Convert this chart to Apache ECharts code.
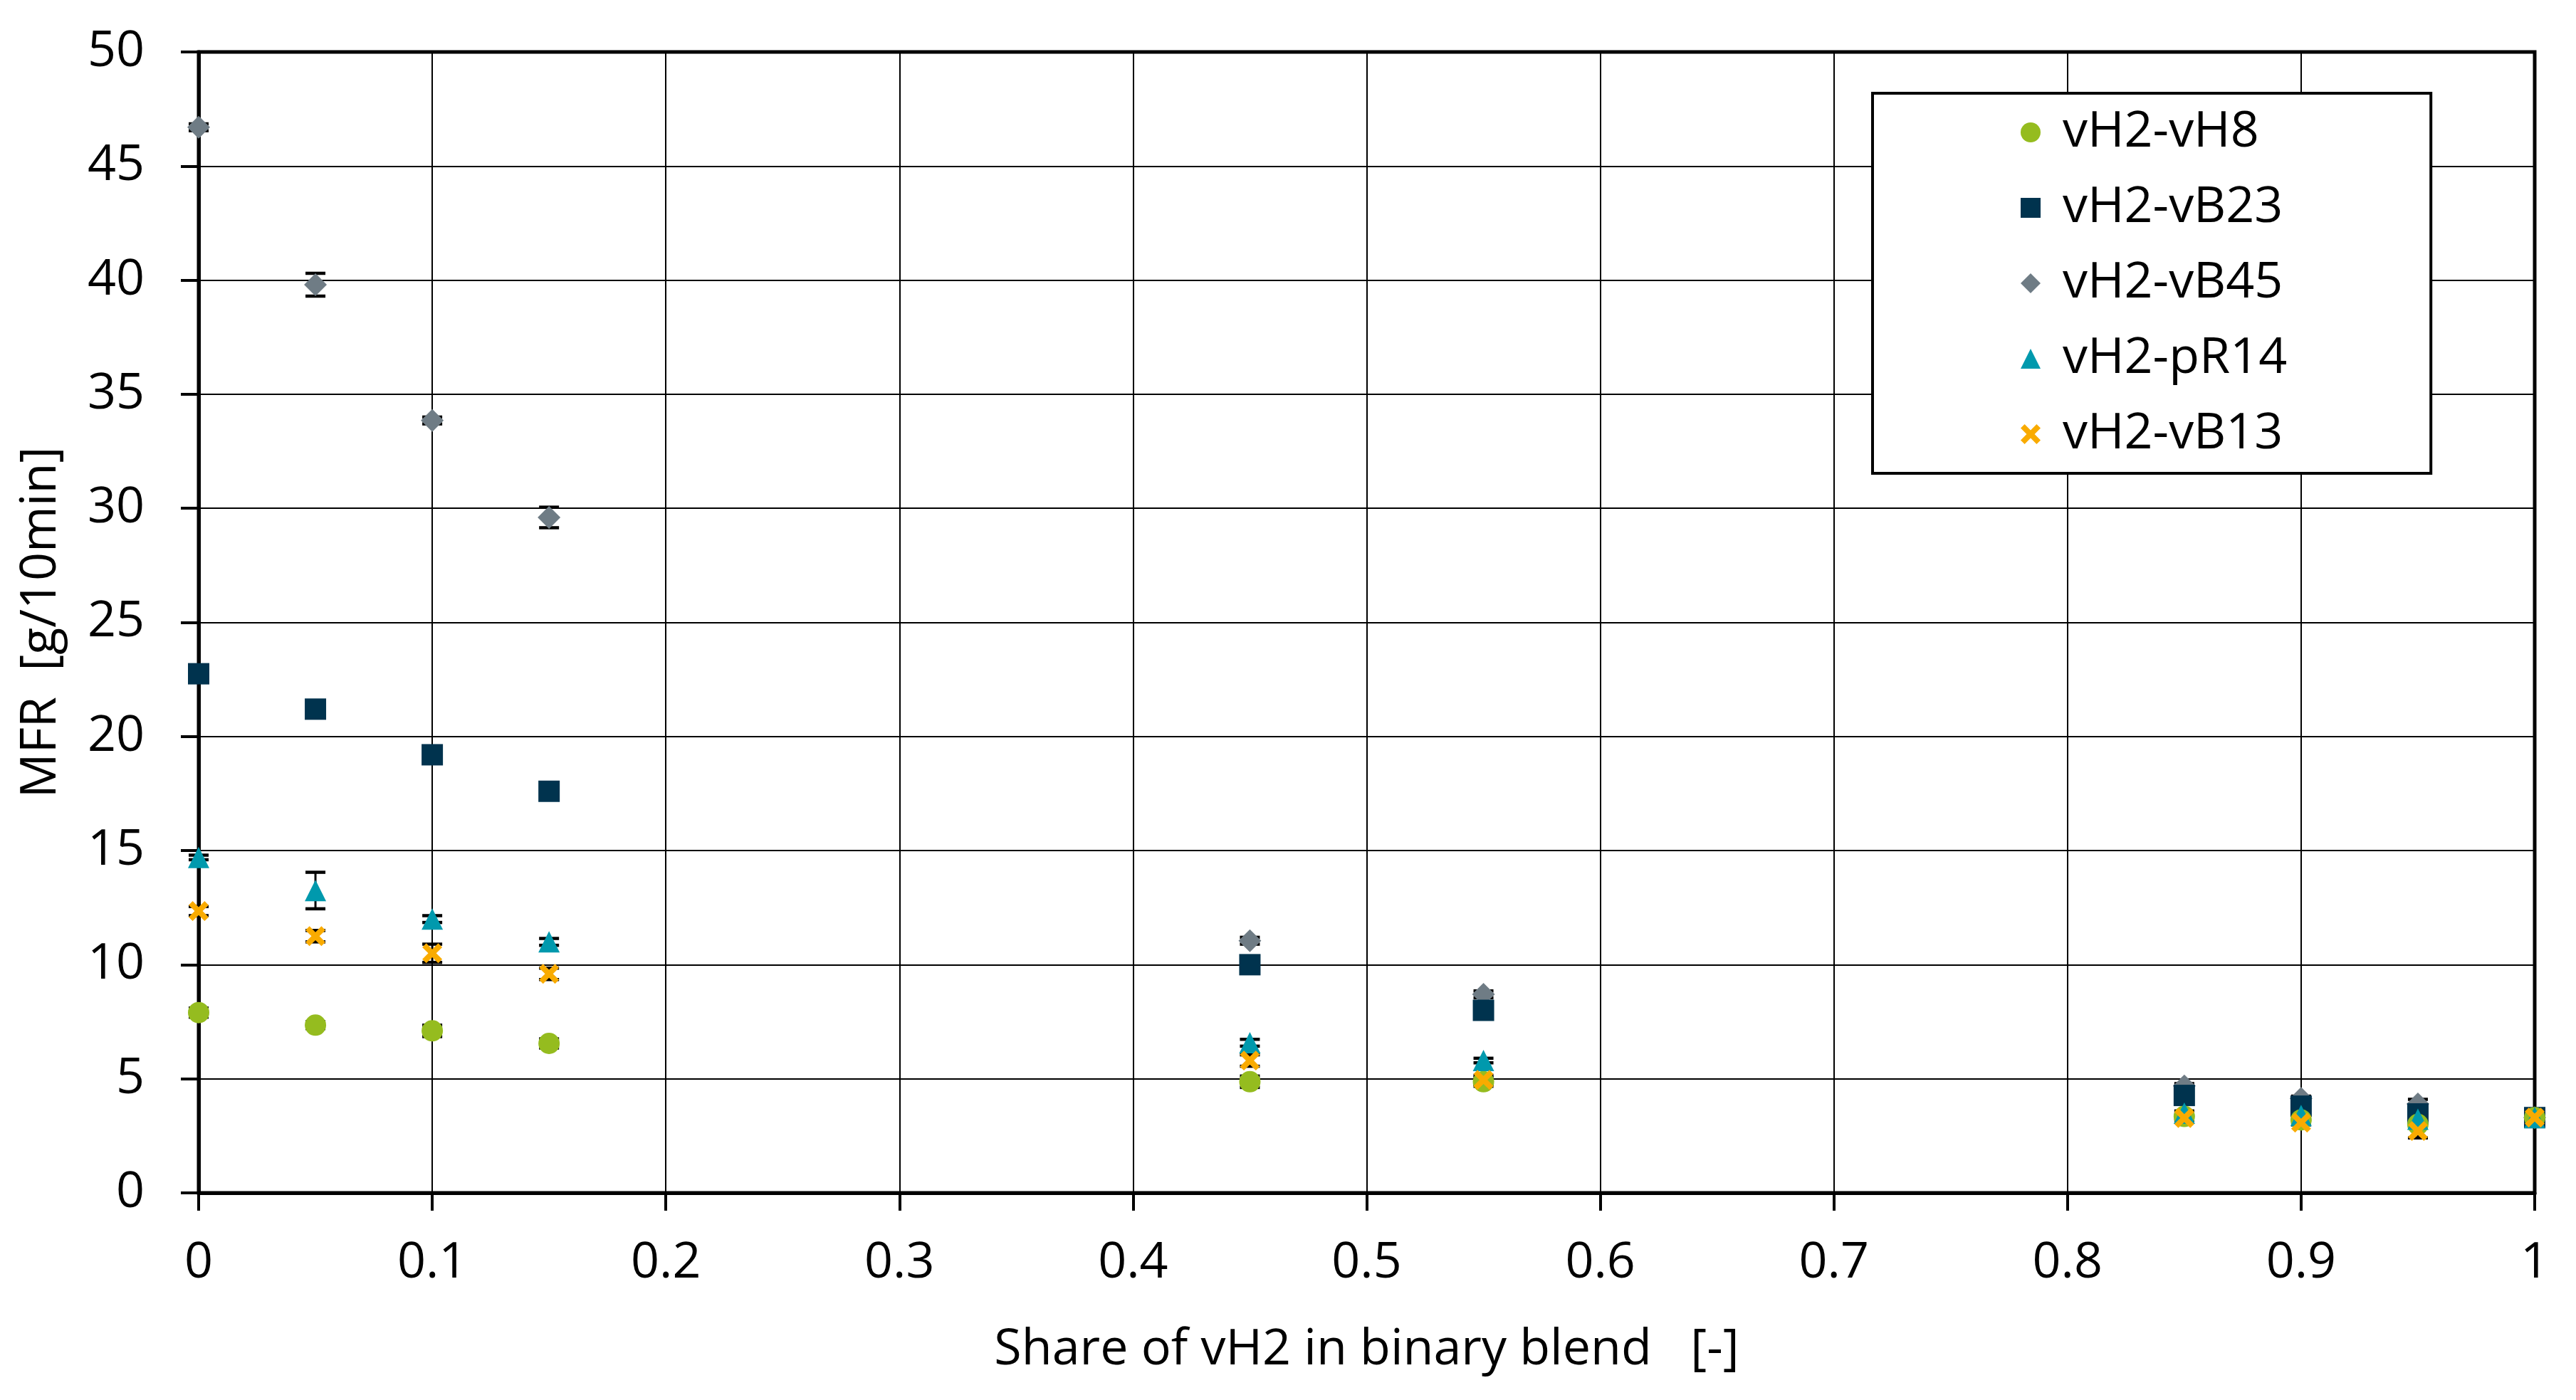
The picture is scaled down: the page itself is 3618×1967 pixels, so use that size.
<!DOCTYPE html>
<html>
<head>
<meta charset="utf-8">
<script src="https://cdn.jsdelivr.net/npm/echarts@6/dist/echarts.min.js"></script>
<style>
  html, body { margin: 0; padding: 0; background: #fff; }
  #main { width: 3618px; height: 1967px; }
</style>
</head>
<body>
<div id="main"></div>
<script>
var myChart = echarts.init(document.getElementById('main'));

// share of vH2 in the blend
const shares = [0, 0.05, 0.1, 0.15, 0.45, 0.55, 0.85, 0.9, 0.95, 1];

// MFR values [g/10min]
const mfrVH8  = [7.9, 7.35, 7.1, 6.55, 4.87, 4.87, 3.35, 3.2, 3.0, 3.3];
const mfrVB23 = [22.75, 21.2, 19.2, 17.6, 10.0, 8.0, 4.27, 3.8, 3.46, 3.3];
const mfrVB45 = [46.7, 39.8, 33.85, 29.6, 11.05, 8.7, 4.69, 4.14, 3.9, 3.3];
const mfrPR14 = [14.7, 13.25, 12.0, 11.0, 6.58, 5.8, 3.49, 3.39, 3.23, 3.3];
const mfrVB13 = [12.35, 11.25, 10.5, 9.6, 5.8, 4.95, 3.28, 3.08, 2.71, 3.3];

// error bars (+/-)
const errVH8  = [0.2, 0.15, 0.25, 0.2, 0.25, 0.2, 0.1, 0.1, 0.1, 0.1];
const errVB23 = [0.2, 0.2, 0.2, 0.2, 0.2, 0.2, 0.1, 0.1, 0.1, 0.1];
const errVB45 = [0.15, 0.5, 0.15, 0.45, 0.15, 0.15, 0.1, 0.1, 0.2, 0.1];
const errPR14 = [0.1, 0.8, 0.15, 0.15, 0.15, 0.1, 0.1, 0.1, 0.1, 0.1];
const errVB13 = [0.2, 0.25, 0.4, 0.25, 0.25, 0.2, 0.1, 0.1, 0.3, 0.1];

const names = ['vH2-vH8', 'vH2-vB23', 'vH2-vB45', 'vH2-pR14', 'vH2-vB13'];

const FONT = 'Open Sans';
const crossPath = 'path://M0,2L2,0L5,3L8,0L10,2L7,5L10,8L8,10L5,7L2,10L0,8L3,5Z';

function pairs(ys) {
  return shares.map(function (x, i) { return [x, ys[i]]; });
}

// all error bars in one list: [x, y, err]
var errData = [];
[[mfrVH8, errVH8], [mfrVB23, errVB23], [mfrVB45, errVB45],
 [mfrPR14, errPR14], [mfrVB13, errVB13]].forEach(function (s) {
  shares.forEach(function (x, i) {
    errData.push([x, s[0][i], s[1][i]]);
  });
});

function scatter(name, data, symbol, color, z, size) {
  return {
    name: name,
    type: 'scatter',
    data: pairs(data),
    symbol: symbol,
    symbolSize: size || 30,
    itemStyle: { color: color, opacity: 1 },
    z: z
  };
}

const option = {
  backgroundColor: '#fff',
  animation: false,
  textStyle: { fontFamily: FONT },
  grid: {
    left: 279,
    right: 58,
    top: 73,
    bottom: 291,
    show: true,
    borderColor: '#000',
    borderWidth: 5
  },
  legend: {
    data: names,
    orient: 'vertical',
    left: 2630,
    top: 131,
    padding: [20, 202, 20, 208],
    itemGap: 36,
    itemWidth: 28,
    itemHeight: 28,
    borderColor: '#000',
    borderWidth: 4,
    backgroundColor: '#fff',
    textStyle: {
      fontFamily: FONT,
      fontSize: 70,
      color: '#000',
      padding: [0, 0, 0, 26]
    }
  },
  xAxis: {
    type: 'value',
    min: 0,
    max: 1,
    interval: 0.1,
    name: 'Share of vH2 in binary blend   [-]',
    nameLocation: 'middle',
    nameGap: 186,
    nameTextStyle: { fontFamily: FONT, fontSize: 70, color: '#000' },
    axisLine: { show: true, lineStyle: { color: '#000', width: 5 } },
    axisTick: { show: true, length: 25, lineStyle: { color: '#000', width: 4 } },
    axisLabel: { fontFamily: FONT, fontSize: 70, color: '#000', margin: 64 },
    splitLine: { show: true, lineStyle: { color: '#000', width: 2 } }
  },
  yAxis: {
    type: 'value',
    min: 0,
    max: 50,
    interval: 5,
    name: 'MFR  [g/10min]',
    nameLocation: 'middle',
    nameGap: 186,
    nameTextStyle: { fontFamily: FONT, fontSize: 70, color: '#000' },
    axisLine: { show: true, lineStyle: { color: '#000', width: 5 } },
    axisTick: { show: true, length: 25, lineStyle: { color: '#000', width: 4 } },
    axisLabel: { fontFamily: FONT, fontSize: 70, color: '#000', margin: 76 },
    splitLine: { show: true, lineStyle: { color: '#000', width: 2 } }
  },
  series: [
    {
      type: 'custom',
      z: 1,
      silent: true,
      data: errData,
      encode: { x: 0, y: 1 },
      renderItem: function (params, api) {
        var x = api.value(0);
        var y = api.value(1);
        var e = api.value(2);
        var top = api.coord([x, y + e]);
        var bot = api.coord([x, y - e]);
        var half = 14;
        return {
          type: 'group',
          children: [
            { type: 'line', shape: { x1: top[0], y1: top[1], x2: bot[0], y2: bot[1] },
              style: { stroke: '#000', lineWidth: 3 } },
            { type: 'line', shape: { x1: top[0] - half, y1: top[1], x2: top[0] + half, y2: top[1] },
              style: { stroke: '#000', lineWidth: 4.5 } },
            { type: 'line', shape: { x1: bot[0] - half, y1: bot[1], x2: bot[0] + half, y2: bot[1] },
              style: { stroke: '#000', lineWidth: 4.5 } }
          ]
        };
      }
    },
    scatter('vH2-vB45', mfrVB45, 'diamond', '#6F7C85', 2, 32),
    scatter('vH2-vB23', mfrVB23, 'rect', '#00334E', 3, 30),
    scatter('vH2-vH8', mfrVH8, 'circle', '#95BC1F', 4, 30),
    scatter('vH2-pR14', mfrPR14, 'triangle', '#0099AD', 5, 30),
    scatter('vH2-vB13', mfrVB13, crossPath, '#F9AB00', 6, 28)
  ]
};

myChart.setOption(option);
</script>
</body>
</html>
